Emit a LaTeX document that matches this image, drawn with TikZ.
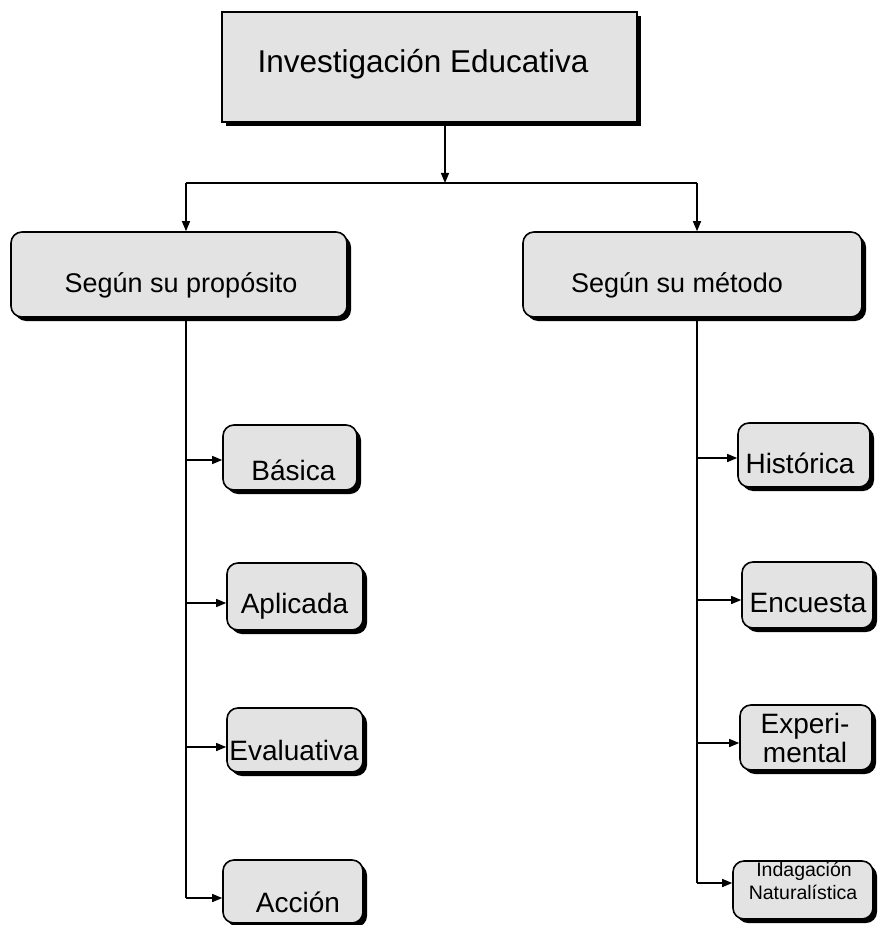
\documentclass[tikz,border=0pt]{standalone}
\usepackage{fontspec}
\setmainfont{Liberation Sans}
\usetikzlibrary{shadows,arrows.meta}
\begin{document}
\begin{tikzpicture}[x=1pt,y=-1pt,
  shd/.style={drop shadow={shadow xshift=4pt,shadow yshift=-4pt,fill=black,opacity=1}},
  topbox/.style={draw=black,line width=1.6pt,fill=black!11,shd,inner sep=0pt},
  rbox/.style={draw=black,line width=1.6pt,fill=black!11,shd,inner sep=0pt,rounded corners=11pt},
  ftop/.style={anchor=base,inner sep=0pt,font=\fontsize{31.5}{34}\selectfont},
  fmid/.style={anchor=base,inner sep=0pt,font=\fontsize{27}{30}\selectfont},
  fsm/.style={anchor=base,inner sep=0pt,font=\fontsize{28}{30}\selectfont},
  ftiny/.style={anchor=base,inner sep=0pt,font=\fontsize{19.5}{22}\selectfont},
  conn/.style={line width=1.3pt,black},
  arr/.style={conn,-{Triangle[length=10pt,width=8pt]}}
]
\useasboundingbox (0,0) rectangle (877,925);
\fill[white] (0,0) rectangle (877,925);

% boxes
\node[topbox,minimum width=415pt,minimum height=110pt] (top) at (429.5,67) {};
\node[rbox,minimum width=336pt,minimum height=85pt] (L) at (179,274.5) {};
\node[rbox,minimum width=339pt,minimum height=85pt] (R) at (692.5,274.5) {};
\node[rbox,minimum width=134pt,minimum height=65pt] (bas) at (290,457.5) {};
\node[rbox,minimum width=136pt,minimum height=67pt] (apl) at (295,596.5) {};
\node[rbox,minimum width=136pt,minimum height=64pt] (eva) at (295,740) {};
\node[rbox,minimum width=140pt,minimum height=63pt] (acc) at (293,891.5) {};
\node[rbox,minimum width=132pt,minimum height=64pt] (his) at (804,455) {};
\node[rbox,minimum width=131pt,minimum height=66pt] (enc) at (807.5,595) {};
\node[rbox,minimum width=132pt,minimum height=65pt] (exp) at (806,737.5) {};
\node[rbox,minimum width=140pt,minimum height=58pt] (ind) at (803,890) {};

% labels
\node[ftop] (topT) at (423,73) {Investigación Educativa};
\node[fmid] (LT) at (181,292) {Según su propósito};
\node[fmid] (RT) at (677,292) {Según su método};
\node[fsm] (basT) at (293.5,480) {Básica};
\node[fsm] (aplT) at (294.5,613) {Aplicada};
\node[fsm] (evaT) at (294,760) {Evaluativa};
\node[fsm] (accT) at (298,912) {Acción};
\node[fsm] (hisT) at (800,473) {Histórica};
\node[fsm] (encT) at (808,612) {Encuesta};
\node[fsm] (expA) at (805,733) {Experi-};
\node[fsm] (expB) at (805,762) {mental};
\node[ftiny] (indA) at (804,876) {Indagación};
\node[ftiny] (indB) at (803,899) {Naturalística};

% junctions
\coordinate (hub) at (445,183);
\coordinate (jl) at (186,183);
\coordinate (jr) at (697,183);

% connectors
\draw[arr] (top.south -| hub) -- (hub);
\draw[conn] (jl) -- (jr);
\draw[arr] (jl) -- (L.north -| jl);
\draw[arr] (jr) -- (R.north -| jr);

\draw[conn] (L.south -| jl) -- ([yshift=-6.5pt]acc.west -| jl);
\draw[arr] ([yshift=-2.5pt]bas.west -| jl) -- ([yshift=-2.5pt]bas.west);
\draw[arr] ([yshift=-6.5pt]apl.west -| jl) -- ([yshift=-6.5pt]apl.west);
\draw[arr] ([yshift=-7pt]eva.west -| jl) -- ([yshift=-7pt]eva.west);
\draw[arr] ([yshift=-6.5pt]acc.west -| jl) -- ([yshift=-6.5pt]acc.west);

\draw[conn] (R.south -| jr) -- ([yshift=7pt]ind.west -| jr);
\draw[arr] ([yshift=-3pt]his.west -| jr) -- ([yshift=-3pt]his.west);
\draw[arr] ([yshift=-5pt]enc.west -| jr) -- ([yshift=-5pt]enc.west);
\draw[arr] ([yshift=-5.5pt]exp.west -| jr) -- ([yshift=-5.5pt]exp.west);
\draw[arr] ([yshift=7pt]ind.west -| jr) -- ([yshift=7pt]ind.west);
\end{tikzpicture}
\end{document}
